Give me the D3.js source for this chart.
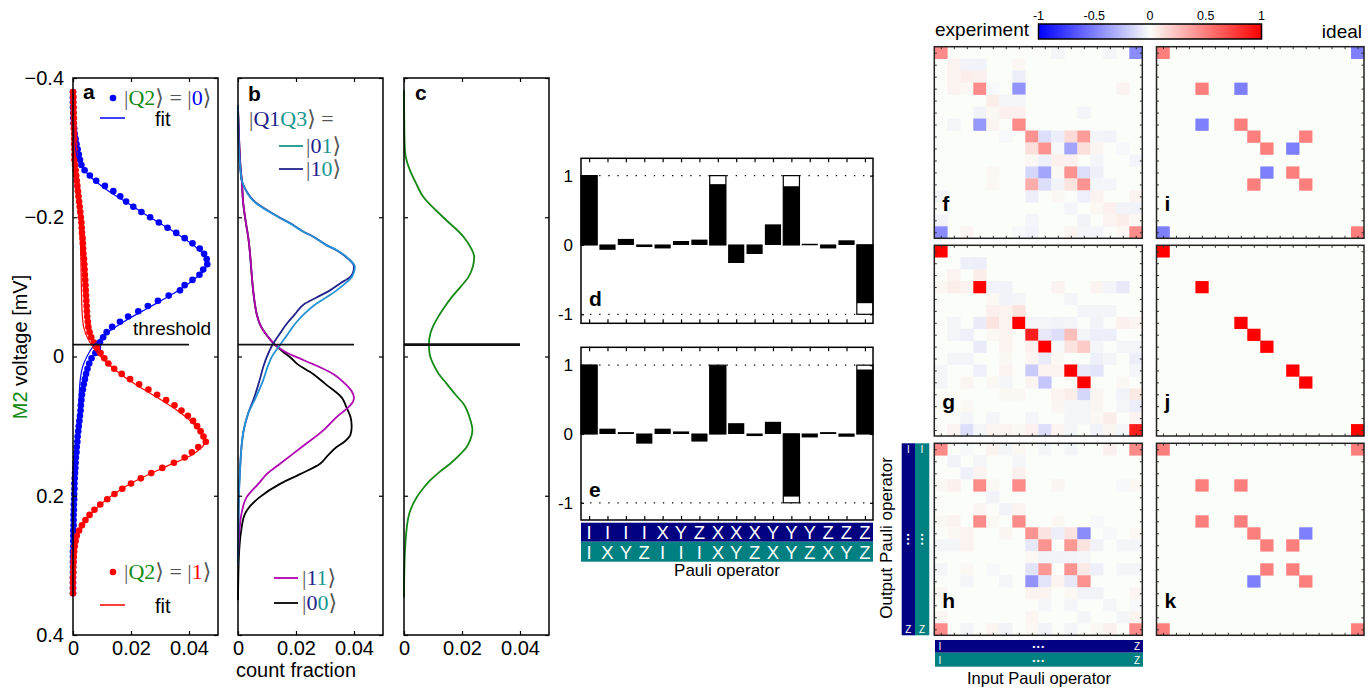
<!DOCTYPE html>
<html><head><meta charset="utf-8">
<script src="https://cdn.jsdelivr.net/npm/d3@7/dist/d3.min.js"></script>
<style>html,body{margin:0;padding:0;background:#fff;}svg{display:block;}</style>
</head><body>
<svg id="fig" width="1372" height="689"></svg>
<script>
// ================= DATA =================
// panel a: histogram bins (uniform voltage bins, mV)
const voltBins = d3.range(97).map(i => -0.38 + i * 0.0075);
const q2ZeroCounts = [0,0,0,0,0.0001,0.0001,0.0002,0.0004,0.0006,0.0009,
0.0012,0.0016,0.0020,0.0024,0.0029,0.0040,0.0058,0.0080,0.0110,0.0139,
0.0163,0.0183,0.0208,0.0236,0.0266,0.0296,0.0326,0.0356,0.0385,0.0412,
0.0437,0.0452,0.0461,0.0463,0.0449,0.0436,0.0412,0.0385,0.0369,0.0330,
0.0293,0.0258,0.0225,0.0190,0.0162,0.0135,0.0116,0.0104,0.0093,0.0086,
0.0077,0.0064,0.0056,0.0050,0.0045,0.0041,0.0037,0.0034,0.0031,0.0029,
0.0027,0.0026,0.0024,0.0022,0.0020,0.0018,0.0016,0.0015,0.0013,0.0012,
0.0010,0.0009,0.0008,0.0007,0.0006,0.0005,0.0005,0.0004,0.0004,0.0003,
0.0003,0.0002,0.0002,0.0002,0.0001,0.0001,0.0001,0.0001,0,0,
0,0,0,0,0,0,0];
const q2OneCounts = [0.0000,0.0001,0.0001,0.0002,0.0002,0.0003,0.0003,0.0003,0.0004,0.0004,
0.0004,0.0005,0.0005,0.0005,0.0007,0.0009,0.0011,0.0013,0.0015,0.0017,
0.0019,0.0021,0.0023,0.0025,0.0027,0.0029,0.0030,0.0031,0.0033,0.0034,
0.0035,0.0036,0.0038,0.0039,0.0040,0.0041,0.0042,0.0043,0.0044,0.0045,
0.0046,0.0047,0.0048,0.0049,0.0051,0.0053,0.0057,0.0063,0.0072,0.0083,
0.0095,0.0108,0.0122,0.0142,0.0168,0.0197,0.0228,0.0260,0.0290,0.0321,
0.0350,0.0374,0.0396,0.0414,0.0428,0.0440,0.0450,0.0458,0.0432,0.0410,
0.0385,0.0348,0.0308,0.0270,0.0234,0.0200,0.0170,0.0143,0.0118,0.0094,
0.0074,0.0057,0.0043,0.0031,0.0021,0.0013,0.0009,0.0006,0.0004,0.0003,
0.0002,0.0001,0.0001,0,0,0,0];
// fits: [voltage, count fraction]
const q2ZeroFit = [[-0.38,0],[-0.33,0.0002],[-0.30,0.0008],[-0.28,0.0020],[-0.26,0.0055],[-0.24,0.0115],[-0.22,0.0190],[-0.20,0.0265],[-0.18,0.0345],[-0.16,0.0415],[-0.145,0.0452],[-0.135,0.0462],[-0.125,0.0455],[-0.11,0.0415],[-0.09,0.0345],[-0.07,0.0260],[-0.05,0.0175],[-0.03,0.0105],[-0.015,0.0070],[0,0.0048],[0.015,0.0033],[0.03,0.0026],[0.05,0.0022],[0.08,0.0020],[0.11,0.0019],[0.14,0.0016],[0.17,0.0012],[0.20,0.0008],[0.23,0.0005],[0.26,0.0002],[0.30,0.0001],[0.34,0]];
const q2OneFit = [[-0.38,0],[-0.33,0.0002],[-0.30,0.0005],[-0.27,0.0010],[-0.24,0.0016],[-0.20,0.0022],[-0.16,0.0026],[-0.12,0.0028],[-0.08,0.0030],[-0.06,0.0032],[-0.04,0.0038],[-0.025,0.0052],[-0.01,0.0075],[0,0.0095],[0.02,0.0148],[0.04,0.0215],[0.06,0.0295],[0.08,0.0368],[0.10,0.0423],[0.115,0.0448],[0.125,0.0452],[0.14,0.0415],[0.16,0.0310],[0.18,0.0210],[0.20,0.0133],[0.22,0.0075],[0.24,0.0036],[0.26,0.0014],[0.28,0.0005],[0.31,0.0001],[0.34,0]];
// panel b: [voltage, count fraction] for |Q1Q3>
const q1q3_01 = [[-0.36,0],[-0.33,0.0001],[-0.30,0.0003],[-0.27,0.0008],[-0.253,0.0013],[-0.24,0.0025],[-0.229,0.0041],[-0.22,0.0062],[-0.21,0.0099],[-0.20,0.0140],[-0.191,0.0180],[-0.18,0.0222],[-0.172,0.0260],[-0.16,0.0305],[-0.153,0.0340],[-0.141,0.0380],[-0.129,0.0403],[-0.12,0.0399],[-0.114,0.0392],[-0.105,0.0370],[-0.095,0.0340],[-0.085,0.0305],[-0.076,0.0271],[-0.06,0.0226],[-0.047,0.0197],[-0.03,0.0168],[-0.019,0.0149],[0.001,0.0116],[0.015,0.0102],[0.035,0.0086],[0.06,0.0060],[0.082,0.0035],[0.105,0.0020],[0.13,0.0012],[0.155,0.0008],[0.178,0.0005],[0.22,0.0002],[0.26,0.0001],[0.30,0]];
const q1q3_10 = [[-0.36,0],[-0.33,0.0001],[-0.30,0.0003],[-0.27,0.0008],[-0.253,0.0013],[-0.24,0.0026],[-0.229,0.0043],[-0.22,0.0064],[-0.21,0.0101],[-0.20,0.0142],[-0.191,0.0182],[-0.18,0.0223],[-0.172,0.0260],[-0.16,0.0305],[-0.153,0.0338],[-0.141,0.0378],[-0.129,0.0400],[-0.12,0.0396],[-0.114,0.0386],[-0.105,0.0352],[-0.095,0.0317],[-0.085,0.0272],[-0.076,0.0231],[-0.06,0.0195],[-0.047,0.0168],[-0.03,0.0140],[-0.019,0.0122],[0.001,0.0099],[0.015,0.0087],[0.035,0.0074],[0.06,0.0055],[0.082,0.0035],[0.105,0.0020],[0.13,0.0012],[0.155,0.0008],[0.178,0.0005],[0.22,0.0002],[0.26,0.0001],[0.30,0]];
const q1q3_11 = [[-0.36,0],[-0.33,0.0002],[-0.30,0.0005],[-0.27,0.0009],[-0.253,0.0013],[-0.22,0.0018],[-0.19,0.0028],[-0.172,0.0035],[-0.15,0.0041],[-0.124,0.0046],[-0.10,0.0051],[-0.076,0.0058],[-0.06,0.0065],[-0.047,0.0075],[-0.037,0.0088],[-0.028,0.0104],[-0.02,0.0120],[-0.013,0.0140],[-0.005,0.0170],[0.001,0.0202],[0.011,0.0259],[0.025,0.0328],[0.039,0.0369],[0.05,0.0392],[0.059,0.0400],[0.066,0.0395],[0.073,0.0380],[0.087,0.0340],[0.106,0.0294],[0.13,0.0220],[0.154,0.0145],[0.169,0.0099],[0.183,0.0070],[0.202,0.0030],[0.226,0.0012],[0.25,0.0005],[0.28,0.0001],[0.30,0]];
const q1q3_00 = [[-0.36,0],[-0.33,0.0002],[-0.30,0.0005],[-0.27,0.0009],[-0.253,0.0013],[-0.22,0.0018],[-0.19,0.0028],[-0.172,0.0035],[-0.15,0.0041],[-0.124,0.0046],[-0.10,0.0051],[-0.076,0.0058],[-0.06,0.0065],[-0.047,0.0075],[-0.037,0.0088],[-0.028,0.0104],[-0.02,0.0120],[-0.013,0.0138],[-0.005,0.0160],[0.001,0.0180],[0.011,0.0205],[0.025,0.0259],[0.039,0.0300],[0.059,0.0358],[0.073,0.0374],[0.087,0.0388],[0.10,0.0392],[0.112,0.0388],[0.122,0.0368],[0.13,0.0340],[0.142,0.0310],[0.154,0.0283],[0.169,0.0214],[0.183,0.0145],[0.202,0.0075],[0.226,0.0024],[0.25,0.0011],[0.28,0.0004],[0.32,0.0001],[0.35,0]];
// panel c: [voltage, count fraction]
const q2Marginal = [[-0.383,0],[-0.33,0.0001],[-0.296,0.0003],[-0.28,0.0010],[-0.268,0.0020],[-0.25,0.0040],[-0.229,0.0067],[-0.2,0.0135],[-0.172,0.0205],[-0.155,0.0232],[-0.143,0.0242],[-0.13,0.0238],[-0.114,0.0222],[-0.1,0.0195],[-0.085,0.0164],[-0.07,0.0138],[-0.057,0.0118],[-0.045,0.0102],[-0.033,0.0091],[-0.018,0.0086],[-0.005,0.0088],[0.011,0.0101],[0.025,0.0120],[0.039,0.0147],[0.055,0.0178],[0.068,0.0205],[0.09,0.0228],[0.106,0.0236],[0.118,0.0230],[0.13,0.0216],[0.142,0.0190],[0.154,0.0159],[0.166,0.0122],[0.178,0.0090],[0.19,0.0065],[0.202,0.0044],[0.231,0.0015],[0.274,0.0004],[0.31,0.0001],[0.346,0]];
const thresholdV = -0.017;
const voltTicks = [-0.4, -0.2, 0, 0.2, 0.4];
const countTicks = [0, 0.02, 0.04];

// panels d, e
const pauliQ1 = ["I","I","I","I","X","Y","Z","X","X","X","Y","Y","Y","Z","Z","Z"];
const pauliQ3 = ["I","X","Y","Z","I","I","I","X","Y","Z","X","Y","Z","X","Y","Z"];
const measuredD = [1.0,-0.07,0.08,-0.03,-0.05,0.05,0.07,0.87,-0.26,-0.13,0.29,0.84,0.01,-0.05,0.06,-0.84];
const idealD    = [1,0,0,0,0,0,0,1,0,0,0,1,0,0,0,-1];
const measuredE = [1.0,0.07,0.02,-0.14,0.07,0.03,-0.11,0.99,0.15,-0.03,0.17,-0.91,-0.05,0.02,-0.04,0.93];
const idealE    = [1,0,0,0,0,0,0,1,0,0,0,-1,0,0,0,1];
const barTicks = [1, 0, -1];

// panels f-k: process matrices, sparse [row, col, value]
const chiF = [[0,0,0.45],[0,9,-0.03],[0,13,-0.03],[0,15,-0.45],
[1,1,0.04],[1,2,-0.04],[1,3,-0.04],[1,6,0.02],
[2,1,0.04],[2,2,0.06],[2,3,0.05],[2,6,-0.06],
[3,1,0.04],[3,2,0.02],[3,3,0.45],[3,4,-0.02],[3,6,-0.42],[3,14,0.04],
[4,4,0.06],[4,5,-0.03],[4,6,-0.03],
[5,3,-0.04],[5,4,0.02],[5,5,0.05],[5,6,0.05],[5,11,-0.03],
[6,1,-0.03],[6,3,-0.40],[6,4,0.03],[6,6,0.45],
[7,5,-0.02],[7,7,0.42],[7,8,-0.12],[7,9,-0.06],[7,10,0.14],[7,11,0.38],[7,12,-0.03],[7,13,-0.04],
[8,7,0.12],[8,8,0.42],[8,9,-0.02],[8,10,-0.35],[8,11,0.12],[8,12,0.03],[8,14,-0.02],
[9,7,0.02],[9,8,-0.05],[9,9,0.05],[9,10,0.05],[9,12,-0.03],[9,15,-0.03],
[10,4,0.02],[10,7,-0.15],[10,8,-0.35],[10,9,0.02],[10,10,0.42],[10,11,-0.12],[10,12,-0.05],
[11,4,0.02],[11,7,0.32],[11,8,-0.12],[11,9,-0.04],[11,10,0.10],[11,11,0.42],[11,12,-0.03],[11,13,-0.03],
[12,0,-0.04],[12,7,-0.06],[12,9,0.02],[12,11,-0.05],[12,12,0.04],[12,15,0.04],
[13,10,-0.03],[13,12,0.02],[13,13,0.05],[13,14,-0.04],[13,15,-0.04],
[14,0,-0.04],[14,7,-0.03],[14,11,-0.04],[14,13,0.04],[14,14,0.06],[14,15,0.02],
[15,0,-0.45],[15,2,0.03],[15,6,-0.02],[15,7,-0.04],[15,10,0.03],[15,11,-0.03],[15,12,-0.03],[15,14,0.02],[15,15,0.45]];
const chiG = [[0,0,1.0],
[1,2,-0.05],[1,3,-0.06],
[2,1,0.04],[2,3,0.06],
[3,0,0.02],[3,1,0.06],[3,2,0.04],[3,3,1.0],[3,4,-0.04],[3,5,-0.04],[3,9,0.04],[3,12,0.03],[3,13,-0.03],[3,14,-0.08],
[4,4,0.02],[4,5,-0.04],[4,6,-0.03],[4,10,-0.03],
[5,4,0.05],[5,5,0.04],[5,6,0.10],[5,11,-0.03],[5,12,-0.03],[5,13,-0.03],
[6,1,-0.03],[6,3,-0.07],[6,4,0.10],[6,5,0.04],[6,6,1.0],[6,7,-0.03],[6,8,-0.03],[6,9,-0.04],[6,10,-0.03],[6,12,-0.04],[6,14,0.05],[6,15,0.03],
[7,1,-0.03],[7,2,-0.05],[7,4,0.02],[7,5,0.04],[7,7,0.88],[7,8,-0.08],[7,9,-0.12],[7,10,0.25],[7,11,-0.03],[7,12,-0.06],[7,13,-0.06],
[8,3,-0.07],[8,5,0.04],[8,7,0.05],[8,8,1.0],[8,9,-0.02],[8,10,0.10],[8,11,0.20],[8,12,-0.03],[8,14,-0.03],[8,15,-0.03],
[9,1,-0.03],[9,2,-0.03],[9,5,0.02],[9,7,0.03],[9,8,-0.07],[9,9,0.02],[9,12,-0.05],[9,13,-0.03],[9,15,-0.06],
[10,0,-0.03],[10,3,-0.05],[10,5,0.04],[10,7,-0.20],[10,8,0.04],[10,9,0.04],[10,10,1.0],[10,11,-0.08],[10,12,-0.10],[10,15,-0.03],
[11,0,-0.03],[11,2,0.03],[11,4,0.02],[11,5,-0.03],[11,7,0.03],[11,8,-0.22],[11,11,1.0],[11,14,0.02],
[12,5,0.02],[12,6,0.02],[12,9,0.04],[12,10,0.06],[12,11,-0.15],[12,12,0.03],[12,14,-0.04],[12,15,0.08],
[13,2,0.02],[13,9,0.03],[13,10,-0.03],[13,11,-0.03],[13,12,0.03],[13,14,-0.03],[13,15,-0.06],
[14,2,-0.03],[14,4,-0.03],[14,7,-0.03],[14,10,-0.03],[14,11,-0.03],[14,12,0.02],[14,13,0.06],[14,15,0.04],
[15,1,0.04],[15,2,-0.12],[15,3,-0.03],[15,4,0.03],[15,5,0.04],[15,6,0.02],[15,7,0.05],[15,8,-0.12],[15,9,0.04],[15,10,-0.03],[15,12,-0.04],[15,13,0.03],[15,14,-0.03],[15,15,0.88]];
const chiH = [[0,0,0.45],[0,2,-0.02],[0,4,0.04],[0,5,-0.03],[0,6,0.02],[0,8,-0.03],[0,10,-0.03],[0,13,0.05],[0,15,0.45],
[1,1,-0.04],[1,3,-0.03],[1,6,-0.03],
[2,2,-0.05],[2,3,0.04],[2,6,0.05],
[3,0,0.02],[3,1,0.05],[3,3,0.45],[3,4,0.02],[3,6,0.45],[3,9,0.03],[3,14,-0.02],[3,15,0.02],
[4,4,-0.04],
[5,3,0.03],[5,5,-0.04],[5,6,0.04],
[6,0,0.02],[6,1,0.04],[6,3,0.45],[6,4,0.02],[6,6,0.45],[6,9,0.02],[6,12,-0.02],
[7,1,0.02],[7,2,0.04],[7,5,0.03],[7,7,0.42],[7,8,0.10],[7,9,-0.06],[7,10,0.10],[7,11,-0.45],[7,13,-0.02],[7,15,0.02],
[8,0,-0.03],[8,1,-0.03],[8,2,0.04],[8,7,-0.08],[8,8,0.42],[8,10,0.40],[8,11,0.10],[8,12,-0.04],[8,14,-0.03],[8,15,-0.03],
[9,7,0.02],[9,8,-0.04],[9,9,-0.04],[9,10,-0.04],[9,11,-0.03],
[10,0,-0.03],[10,2,0.02],[10,4,-0.02],[10,7,-0.10],[10,8,0.40],[10,10,0.42],[10,11,0.08],[10,12,-0.05],[10,14,-0.03],[10,15,-0.03],
[11,2,-0.03],[11,5,-0.03],[11,7,-0.42],[11,8,-0.10],[11,9,0.04],[11,10,-0.08],[11,11,0.42],
[12,0,0.03],[12,7,0.04],[12,8,0.04],[12,10,0.02],[12,11,-0.04],[12,12,-0.04],[12,15,0.03],
[13,8,-0.03],[13,10,-0.03],[13,13,-0.03],[13,15,-0.02],
[14,0,0.03],[14,7,0.03],[14,11,-0.03],[14,14,-0.03],[14,15,0.04],
[15,0,0.45],[15,2,-0.03],[15,4,0.03],[15,5,-0.04],[15,7,0.02],[15,8,-0.04],[15,10,-0.03],[15,12,0.02],[15,13,0.05],[15,15,0.45]];
const chiI = [[0,0,0.5],[0,15,-0.5],[3,3,0.5],[3,6,-0.5],[6,3,-0.5],[6,6,0.5],[7,7,0.5],[7,11,0.5],[8,8,0.5],[8,10,-0.5],[10,8,-0.5],[10,10,0.5],[11,7,0.5],[11,11,0.5],[15,0,-0.5],[15,15,0.5]];
const chiJ = [[0,0,1],[3,3,1],[6,6,1],[7,7,1],[8,8,1],[10,10,1],[11,11,1],[15,15,1]];
const chiK = [[0,0,0.5],[0,15,0.5],[3,3,0.5],[3,6,0.5],[6,3,0.5],[6,6,0.5],[7,7,0.5],[7,11,-0.5],[8,8,0.5],[8,10,0.5],[10,8,0.5],[10,10,0.5],[11,7,-0.5],[11,11,0.5],[15,0,0.5],[15,15,0.5]];
const colorTicks = [-1, -0.5, 0, 0.5, 1];

// ================= DRAWING =================
const svg = d3.select("#fig");
const SANS = "'Liberation Sans', Arial, Helvetica, sans-serif";
const SERIF = "'Liberation Serif', 'DejaVu Serif', 'Times New Roman', serif";
const COL = {blue:"#0000ff", red:"#ff0000", green:"#138a13", navy:"#22228c", light:"#2592d6",
  teal:"#17968f", magenta:"#b000b0", gray:"#555", bandNavy:"#000080", bandTeal:"#008080"};
const RANGLE = "\u27E9";

function styleAxis(sel, keepText, size) {
  sel.select(".domain").remove();
  sel.selectAll("line").attr("stroke", "#000").attr("stroke-width", 1.2);
  sel.attr("font-family", SANS).attr("font-size", size || 20);
  sel.selectAll("text").attr("fill", "#000");
  if (!keepText) sel.selectAll("text").remove();
}
function mathText(g, x, y, parts, size) {
  const t = g.append("text").attr("x", x).attr("y", y).attr("font-family", SERIF).attr("font-size", size || 22);
  parts.forEach(([s, c]) => t.append("tspan").attr("fill", c).text(s));
  return t;
}
function boldLetter(g, x, y, s) {
  g.append("text").attr("x", x).attr("y", y).attr("font-family", SANS).attr("font-weight", "bold")
    .attr("font-size", 21).attr("fill", "#000").text(s);
}

// ---- panels a, b, c
const Y0 = 78, Y1 = 635, PW = 145;
const yVolt = d3.scaleLinear().domain([-0.4, 0.4]).range([Y0, Y1]);
const fmtVolt = d => d === 0 ? "0" : d3.format(".1f")(d);
const fmtCount = d => d === 0 ? "0" : d3.format(".2f")(d);
const histPanels = [{key:"a", x0:73}, {key:"b", x0:238}, {key:"c", x0:404}];
const xs = {};
const layers = {};
histPanels.forEach(p => {
  const x = d3.scaleLinear().domain([0, 0.05]).range([p.x0, p.x0 + PW]);
  xs[p.key] = x;
  const g = svg.append("g");
  layers[p.key] = g.append("g");
  const ax = (axis, tx, ty, keep) => styleAxis(g.append("g").attr("transform", `translate(${tx},${ty})`).call(axis), keep);
  ax(d3.axisLeft(yVolt).tickValues(voltTicks).tickSize(-4).tickPadding(9).tickFormat(fmtVolt), p.x0, 0, p.key === "a");
  ax(d3.axisRight(yVolt).tickValues(voltTicks).tickSize(-4), p.x0 + PW, 0, false);
  ax(d3.axisBottom(x).tickValues(countTicks).tickSize(-4).tickPadding(6).tickFormat(fmtCount), 0, Y1, true);
  ax(d3.axisTop(x).tickValues(countTicks).tickSize(-4), 0, Y0, false);
  g.append("line").attr("x1", x(0)).attr("x2", x(0.04)).attr("y1", yVolt(thresholdV)).attr("y2", yVolt(thresholdV))
    .attr("stroke", "#111").attr("stroke-width", p.key === "c" ? 2.6 : 1.6);
  g.append("rect").attr("x", p.x0).attr("y", Y0).attr("width", PW).attr("height", Y1 - Y0)
    .attr("fill", "none").attr("stroke", "#000").attr("stroke-width", 1.5);
});

function voltLine(xScale) {
  return d3.line().x(d => xScale(d[1])).y(d => yVolt(d[0])).curve(d3.curveMonotoneY);
}
// panel a
const la = layers.a;
la.append("g").selectAll("circle").data(voltBins.map((v, i) => [v, q2ZeroCounts[i]])).join("circle")
  .attr("cx", d => xs.a(d[1])).attr("cy", d => yVolt(d[0])).attr("r", 3.3).attr("fill", COL.blue);
la.append("g").selectAll("circle").data(voltBins.map((v, i) => [v, q2OneCounts[i]])).join("circle")
  .attr("cx", d => xs.a(d[1])).attr("cy", d => yVolt(d[0])).attr("r", 3.3).attr("fill", COL.red);
la.append("path").datum(q2ZeroFit).attr("d", voltLine(xs.a)).attr("fill", "none").attr("stroke", COL.blue).attr("stroke-width", 1.2);
la.append("path").datum(q2OneFit).attr("d", voltLine(xs.a)).attr("fill", "none").attr("stroke", COL.red).attr("stroke-width", 1.2);

// panel b
const lb = layers.b;
[[q1q3_00, "#000"], [q1q3_11, COL.magenta], [q1q3_10, COL.navy], [q1q3_01, COL.light]].forEach(([d, c]) => {
  lb.append("path").datum(d).attr("d", voltLine(xs.b)).attr("fill", "none").attr("stroke", c).attr("stroke-width", 1.8);
});
// panel c
layers.c.append("path").datum(q2Marginal).attr("d", voltLine(xs.c)).attr("fill", "none").attr("stroke", COL.green).attr("stroke-width", 1.8);

// legends and labels for a-c
const lg = svg.append("g");
boldLetter(lg, 83, 99, "a");
boldLetter(lg, 248, 101, "b");
boldLetter(lg, 415, 100, "c");
lg.append("circle").attr("cx", 113).attr("cy", 98).attr("r", 3.3).attr("fill", COL.blue);
mathText(lg, 124, 105, [["|", COL.gray], ["Q2", COL.green], [RANGLE + " = |", COL.gray], ["0", COL.blue], [RANGLE, COL.gray]]);
lg.append("line").attr("x1", 100).attr("x2", 125).attr("y1", 118).attr("y2", 118).attr("stroke", COL.blue).attr("stroke-width", 1.5);
lg.append("text").attr("x", 155).attr("y", 126).attr("font-family", SANS).attr("font-size", 20).text("fit");
lg.append("circle").attr("cx", 113).attr("cy", 572).attr("r", 3.3).attr("fill", COL.red);
mathText(lg, 124, 579, [["|", COL.gray], ["Q2", COL.green], [RANGLE + " = |", COL.gray], ["1", COL.red], [RANGLE, COL.gray]]);
lg.append("line").attr("x1", 100).attr("x2", 125).attr("y1", 605).attr("y2", 605).attr("stroke", COL.red).attr("stroke-width", 1.5);
lg.append("text").attr("x", 155).attr("y", 613).attr("font-family", SANS).attr("font-size", 20).text("fit");
lg.append("text").attr("x", 133).attr("y", 335).attr("font-family", SANS).attr("font-size", 19).text("threshold");

mathText(lg, 249, 126, [["|", COL.gray], ["Q1", COL.navy], ["Q3", COL.teal], [RANGLE + " =", COL.gray]]);
lg.append("line").attr("x1", 279).attr("x2", 303).attr("y1", 146).attr("y2", 146).attr("stroke", COL.teal).attr("stroke-width", 1.8);
mathText(lg, 306, 153, [["|", COL.gray], ["0", COL.navy], ["1", COL.teal], [RANGLE, COL.gray]]);
lg.append("line").attr("x1", 279).attr("x2", 303).attr("y1", 169).attr("y2", 169).attr("stroke", COL.navy).attr("stroke-width", 1.8);
mathText(lg, 306, 176, [["|", COL.gray], ["1", COL.navy], ["0", COL.teal], [RANGLE, COL.gray]]);
lg.append("line").attr("x1", 274).attr("x2", 298).attr("y1", 578).attr("y2", 578).attr("stroke", COL.magenta).attr("stroke-width", 1.8);
mathText(lg, 302, 585, [["|", COL.gray], ["1", COL.navy], ["1", COL.teal], [RANGLE, COL.gray]]);
lg.append("line").attr("x1", 274).attr("x2", 298).attr("y1", 603).attr("y2", 603).attr("stroke", "#000").attr("stroke-width", 1.8);
mathText(lg, 302, 610, [["|", COL.gray], ["0", COL.navy], ["0", COL.teal], [RANGLE, COL.gray]]);

lg.append("text").attr("x", 296).attr("y", 677).attr("text-anchor", "middle").attr("font-family", SANS).attr("font-size", 20).text("count fraction");
const yl = lg.append("text").attr("transform", "translate(26.5,347) rotate(-90)").attr("text-anchor", "middle")
  .attr("font-family", SANS).attr("font-size", 20);
yl.append("tspan").attr("fill", COL.green).text("M2");
yl.append("tspan").attr("fill", "#000").text(" voltage [mV]");

// ---- panels d, e
const BX0 = 581, BX1 = 873;
const barBand = d3.scaleBand().domain(d3.range(16)).range([BX0, BX1]).paddingInner(0.12).paddingOuter(0);
function barPanel(top, bottom, domain, measured, ideal, letter, letterY) {
  const y = d3.scaleLinear().domain(domain).range([bottom, top]);
  const g = svg.append("g");
  [1, -1].forEach(v => g.append("line").attr("x1", BX0).attr("x2", BX1).attr("y1", y(v)).attr("y2", y(v))
    .attr("stroke", "#000").attr("stroke-width", 1.3).attr("stroke-dasharray", "1.3,7.8"));
  g.selectAll("rect.ideal").data(ideal.map((v, i) => ({v, i})).filter(d => d.v !== 0)).join("rect")
    .attr("class", "ideal").attr("x", d => barBand(d.i)).attr("width", barBand.bandwidth())
    .attr("y", d => Math.min(y(0), y(d.v))).attr("height", d => Math.abs(y(d.v) - y(0)))
    .attr("fill", "#fff").attr("stroke", "#000").attr("stroke-width", 1.2);
  g.selectAll("rect.meas").data(measured.map((v, i) => ({v, i}))).join("rect")
    .attr("class", "meas").attr("x", d => barBand(d.i)).attr("width", barBand.bandwidth())
    .attr("y", d => Math.min(y(0), y(d.v)) - 0.5).attr("height", d => Math.max(1.5, Math.abs(y(d.v) - y(0)) + 0.5))
    .attr("fill", "#000");
  const xTick = d3.scaleLinear().domain([0, 15]).range([barBand(0) + barBand.bandwidth() / 2, barBand(15) + barBand.bandwidth() / 2]);
  const ax = (axis, tx, ty, keep, size) => styleAxis(g.append("g").attr("transform", `translate(${tx},${ty})`).call(axis), keep, size);
  ax(d3.axisBottom(xTick).tickValues(d3.range(16)).tickSize(-4), 0, bottom, false);
  ax(d3.axisTop(xTick).tickValues(d3.range(16)).tickSize(-4), 0, top, false);
  ax(d3.axisLeft(y).tickValues(barTicks).tickSize(-3).tickPadding(8).tickFormat(d => d === -1 ? "-1" : String(d)), BX0, 0, true, 17);
  ax(d3.axisRight(y).tickValues(barTicks).tickSize(-3), BX1, 0, false);
  g.append("rect").attr("x", BX0).attr("y", top).attr("width", BX1 - BX0).attr("height", bottom - top)
    .attr("fill", "none").attr("stroke", "#000").attr("stroke-width", 1.5);
  boldLetter(g, 589, letterY, letter);
}
barPanel(158.3, 323.3, [-1.13, 1.25], measuredD, idealD, "d", 306);
barPanel(347.3, 520, [-1.25, 1.26], measuredE, idealE, "e", 497);

// Pauli label bands
const pb = svg.append("g");
pb.append("rect").attr("x", BX0).attr("y", 522.7).attr("width", BX1 - BX0).attr("height", 19).attr("fill", COL.bandNavy);
pb.append("rect").attr("x", BX0).attr("y", 541.7).attr("width", BX1 - BX0).attr("height", 20).attr("fill", COL.bandTeal);
[[pauliQ1, 539], [pauliQ3, 559]].forEach(([labels, yy]) => {
  pb.selectAll(null).data(labels).join("text").attr("x", (d, i) => barBand(i) + barBand.bandwidth() / 2).attr("y", yy)
    .attr("text-anchor", "middle").attr("font-family", SANS).attr("font-size", 18.5).attr("fill", "#fff").text(d => d);
});
pb.append("text").attr("x", 727).attr("y", 576).attr("text-anchor", "middle").attr("font-family", SANS).attr("font-size", 17).text("Pauli operator");

// ---- heatmaps f-k
const hmColor = d3.scaleLinear().domain([-1, 0, 1]).range(["#0000ff", "#fbfdf9", "#ff0000"]);
const hmColsX = [[934.3, 1142.3], [1156.5, 1364]];
const hmRowsY = [[46.7, 238.3], [245.3, 436], [443.3, 635.3]];
function heatmap(xr, yr, cells, letter) {
  const cx = d3.scaleBand().domain(d3.range(16)).range(xr);
  const cy = d3.scaleBand().domain(d3.range(16)).range(yr);
  const g = svg.append("g");
  g.append("rect").attr("x", xr[0]).attr("y", yr[0]).attr("width", xr[1] - xr[0]).attr("height", yr[1] - yr[0]).attr("fill", hmColor(0));
  g.selectAll("rect.cell").data(cells).join("rect").attr("class", "cell")
    .attr("x", d => cx(d[1])).attr("y", d => cy(d[0])).attr("width", cx.bandwidth() + 0.3).attr("height", cy.bandwidth() + 0.3)
    .attr("fill", d => hmColor(d[2]));
  const tx = d3.scaleLinear().domain([0, 15]).range([cx(0) + cx.bandwidth() / 2, cx(15) + cx.bandwidth() / 2]);
  const ty = d3.scaleLinear().domain([0, 15]).range([cy(0) + cy.bandwidth() / 2, cy(15) + cy.bandwidth() / 2]);
  const ax = (axis, a, b) => {
    const s = g.append("g").attr("transform", `translate(${a},${b})`).call(axis);
    s.select(".domain").remove(); s.selectAll("text").remove();
    s.selectAll("line").attr("stroke", "#333").attr("stroke-width", 1);
  };
  ax(d3.axisTop(tx).tickValues(d3.range(16)).tickSize(-2.5), 0, yr[0]);
  ax(d3.axisBottom(tx).tickValues(d3.range(16)).tickSize(-2.5), 0, yr[1]);
  ax(d3.axisLeft(ty).tickValues(d3.range(16)).tickSize(-2.5), xr[0], 0);
  ax(d3.axisRight(ty).tickValues(d3.range(16)).tickSize(-2.5), xr[1], 0);
  g.append("rect").attr("x", xr[0]).attr("y", yr[0]).attr("width", xr[1] - xr[0]).attr("height", yr[1] - yr[0])
    .attr("fill", "none").attr("stroke", "#222").attr("stroke-width", 1.5);
  boldLetter(g, xr[0] + 8, yr[1] - 27, letter);
}
heatmap(hmColsX[0], hmRowsY[0], chiF, "f");
heatmap(hmColsX[1], hmRowsY[0], chiI, "i");
heatmap(hmColsX[0], hmRowsY[1], chiG, "g");
heatmap(hmColsX[1], hmRowsY[1], chiJ, "j");
heatmap(hmColsX[0], hmRowsY[2], chiH, "h");
heatmap(hmColsX[1], hmRowsY[2], chiK, "k");

// colour bar
const defs = svg.append("defs");
const grad = defs.append("linearGradient").attr("id", "cbar").attr("x1", "0%").attr("x2", "100%");
d3.range(-1, 1.001, 0.25).forEach(t => grad.append("stop").attr("offset", ((t + 1) / 2 * 100) + "%").attr("stop-color", hmColor(t)));
const cbX = d3.scaleLinear().domain([-1, 1]).range([1038.5, 1261.5]);
const cb = svg.append("g");
cb.append("rect").attr("x", cbX(-1)).attr("y", 24).attr("width", cbX(1) - cbX(-1)).attr("height", 15)
  .attr("fill", "url(#cbar)").attr("stroke", "#000").attr("stroke-width", 1.5);
cb.selectAll(null).data(colorTicks).join("text").attr("x", d => cbX(d)).attr("y", 20).attr("text-anchor", "middle")
  .attr("font-family", SANS).attr("font-size", 12.5).text(d => d === 0 ? "0" : String(d));
cb.append("text").attr("x", 935).attr("y", 36).attr("font-family", SANS).attr("font-size", 19).text("experiment");
cb.append("text").attr("x", 1362).attr("y", 38).attr("text-anchor", "end").attr("font-family", SANS).attr("font-size", 19).text("ideal");

// Output / Input Pauli operator bands
const ob = svg.append("g");
ob.append("rect").attr("x", 901.7).attr("y", 443.3).attr("width", 13.3).attr("height", 192).attr("fill", COL.bandNavy);
ob.append("rect").attr("x", 915).attr("y", 443.3).attr("width", 14.3).attr("height", 192).attr("fill", COL.bandTeal);
[908.3, 922].forEach(xx => {
  ob.append("text").attr("x", xx).attr("y", 453).attr("text-anchor", "middle").attr("font-family", SANS).attr("font-size", 10).attr("fill", "#fff").text("I");
  ob.append("text").attr("x", xx).attr("y", 633).attr("text-anchor", "middle").attr("font-family", SANS).attr("font-size", 10).attr("fill", "#fff").text("Z");
  ob.append("text").attr("transform", `translate(${xx - 2.5},540) rotate(90)`).attr("text-anchor", "middle").attr("font-family", SANS)
    .attr("font-size", 8).attr("font-weight", "bold").attr("letter-spacing", 1.5).attr("fill", "#fff").text("\u2022\u2022\u2022");
});
ob.append("rect").attr("x", 935).attr("y", 640).attr("width", 208).attr("height", 12.7).attr("fill", COL.bandNavy);
ob.append("rect").attr("x", 935).attr("y", 652.7).attr("width", 208).attr("height", 14).attr("fill", COL.bandTeal);
[650, 664].forEach(yy => {
  ob.append("text").attr("x", 940).attr("y", yy).attr("text-anchor", "middle").attr("font-family", SANS).attr("font-size", 10).attr("fill", "#fff").text("I");
  ob.append("text").attr("x", 1137).attr("y", yy).attr("text-anchor", "middle").attr("font-family", SANS).attr("font-size", 10).attr("fill", "#fff").text("Z");
  ob.append("text").attr("x", 1039).attr("y", yy - 1).attr("text-anchor", "middle").attr("font-family", SANS).attr("font-size", 8)
    .attr("font-weight", "bold").attr("letter-spacing", 1.5).attr("fill", "#fff").text("\u2022\u2022\u2022");
});
ob.append("text").attr("transform", "translate(892,538) rotate(-90)").attr("text-anchor", "middle").attr("font-family", SANS).attr("font-size", 17).text("Output Pauli operator");
ob.append("text").attr("x", 1039).attr("y", 684).attr("text-anchor", "middle").attr("font-family", SANS).attr("font-size", 16.5).text("Input Pauli operator");
</script>
</body></html>
